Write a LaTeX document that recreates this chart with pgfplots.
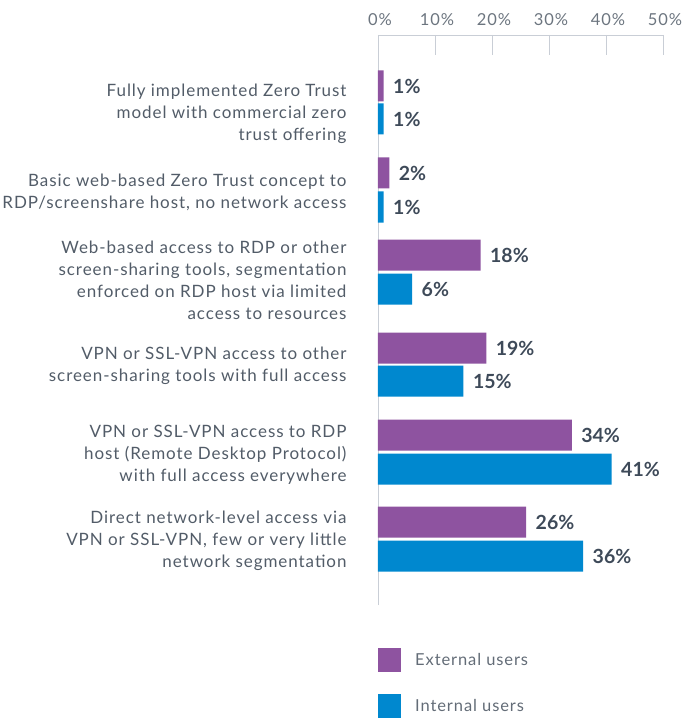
\documentclass[border=0pt]{standalone}
\usepackage{pgfplots}
\pgfplotsset{compat=1.18}
\usepackage{fontspec}
\setmainfont{Lato}
\newfontfamily\widefont{Lato}[LetterSpace=5.5]
\definecolor{extc}{HTML}{8E53A0}
\definecolor{intc}{HTML}{0088CF}
\definecolor{txt}{HTML}{525C68}
\definecolor{val}{HTML}{3E4A59}
\definecolor{axc}{HTML}{C9CED6}
\begin{document}
\begin{tikzpicture}
\path[use as bounding box] (-378pt,35pt) rectangle (303pt,-684pt);
\begin{axis}[
  at={(0,0)}, anchor=north west,
  scale only axis, width=285pt, height=570pt,
  xmin=0, xmax=50, ymin=114, ymax=684,
  axis x line*=top, axis y line*=left,
  axis line style={draw=axc, line width=0.9pt, -},
  xtick={0,10,20,30,40,50},
  xticklabel={\pgfmathprintnumber{\tick}\%},
  /pgf/number format/assume math mode=true,
  tick align=inside, major tick length=20pt,
  tick style={draw=axc, line width=0.9pt},
  x tick label style={font=\widefont\fontsize{16.5}{19}\selectfont, text=txt!85, yshift=6pt, xshift=2pt},
  ytick={178,264,353,439,527,605},
  y tick style={draw=none},
  yticklabels={
    {Direct network-level access via\\VPN or SSL-VPN, few or very little\\network segmentation},
    {VPN or SSL-VPN access to RDP\\host (Remote Desktop Protocol)\\with full access everywhere},
    {VPN or SSL-VPN access to other\\screen-sharing tools with full access},
    {Web-based access to RDP or other\\screen-sharing tools, segmentation\\enforced on RDP host via limited\\access to resources},
    {Basic web-based Zero Trust concept to\\RDP/screenshare host, no network access},
    {Fully implemented Zero Trust\\model with commercial zero\\trust offering}},
  y tick label style={font=\widefont\fontsize{17}{22}\selectfont, text=txt, align=right, anchor=east, xshift=-8pt},
  xbar, bar width=31, bar shift=0,
  nodes near coords={\pgfmathprintnumber{\pgfplotspointmeta}\%},
  point meta=x,
  nodes near coords style={font=\bfseries\fontsize{19.5}{22}\selectfont, text=val, anchor=west, xshift=6pt},
  legend style={at={(0,0)}, anchor=north west, yshift=-43pt, draw=none, fill=none,
    inner sep=0pt, row sep=22pt, font=\widefont\fontsize{16.5}{19}\selectfont, text=txt!90,
    nodes={inner xsep=14pt, inner ysep=0pt}},
  legend cell align=left,
  legend image code/.code={\fill[#1] (0pt,-12pt) rectangle (23pt,12pt);},
  clip=false,
]
\addplot[fill=extc, draw=none] coordinates {(26,197) (34,284) (19,371) (18,464) (2,546) (1,633)};
\addlegendentry{External users}
\addplot[fill=intc, draw=none] coordinates {(36,163) (41,250) (15,338) (6,430) (1,512) (1,600)};
\addlegendentry{Internal users}
\end{axis}
\end{tikzpicture}
\end{document}
